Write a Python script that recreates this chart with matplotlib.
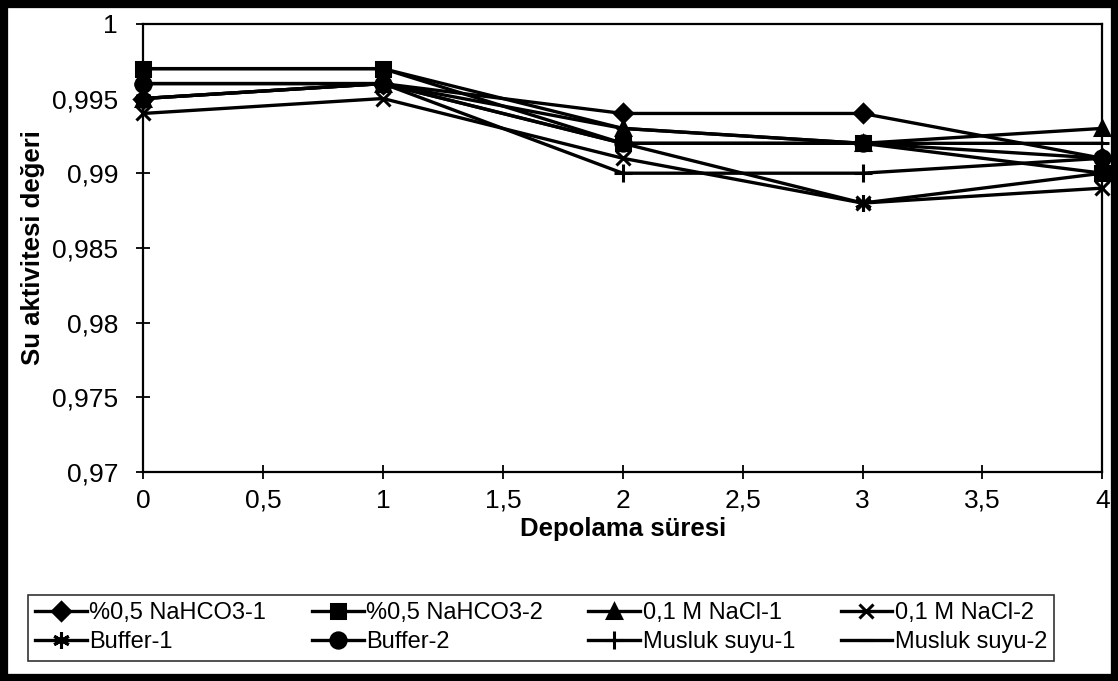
import numpy as np
import matplotlib
matplotlib.use("Agg")
from matplotlib import pyplot as plt
from matplotlib.ticker import FuncFormatter, MultipleLocator
from matplotlib.patches import Rectangle

plt.rcParams['font.family'] = ['Liberation Sans', 'DejaVu Sans']

days = [0, 1, 2, 3, 4]

nahco3_1 = [0.995, 0.996, 0.994, 0.994, 0.991]
nahco3_2 = [0.997, 0.997, 0.992, 0.992, 0.990]
nacl_1 = [0.995, 0.996, 0.993, 0.992, 0.993]
nacl_2 = [0.994, 0.995, 0.991, 0.988, 0.989]
buffer_1 = [0.995, 0.996, 0.992, 0.988, 0.990]
buffer_2 = [0.996, 0.996, 0.992, 0.992, 0.991]
musluk_1 = [0.996, 0.996, 0.990, 0.990, 0.991]
musluk_2 = [0.997, 0.997, 0.993, 0.992, 0.992]

labels = ['%0,5 NaHCO3-1', '%0,5 NaHCO3-2', '0,1 M NaCl-1', '0,1 M NaCl-2',
          'Buffer-1', 'Buffer-2', 'Musluk suyu-1', 'Musluk suyu-2']
series = [nahco3_1, nahco3_2, nacl_1, nacl_2, buffer_1, buffer_2, musluk_1, musluk_2]
markers = ['D', 's', '^', 'x', (6, 2, 0), 'o', '+', '_']
sizes = [9, 10, 10, 10, 12, 11, 13, 10]

fig = plt.figure(figsize=(11.18, 6.81), dpi=100)
ax = fig.add_axes([0.128, 0.307, 0.858, 0.658])

handles = []
for y, lab, m, ms in zip(series, labels, markers, sizes):
    h, = ax.plot(days, y, color='black', lw=2.4, marker=m, markersize=ms,
                 markeredgewidth=2.2, markerfacecolor='black',
                 markeredgecolor='black', label=lab, clip_on=False)
    handles.append(h)

ax.set_xlim(0, 4)
ax.set_ylim(0.97, 1.0)
ax.xaxis.set_major_locator(MultipleLocator(0.5))
ax.yaxis.set_major_locator(MultipleLocator(0.005))

fmt = FuncFormatter(lambda v, p: ('%g' % round(v, 4)).replace('.', ','))
ax.xaxis.set_major_formatter(fmt)
ax.yaxis.set_major_formatter(fmt)
ax.tick_params(direction='inout', length=10, width=1.3, labelsize=19)
ax.tick_params(axis='y', pad=13)
ax.tick_params(axis='x', pad=7)

for s in ax.spines.values():
    s.set_linewidth(1.6)

ax.set_xlabel('Depolama süresi', fontsize=18.5, fontweight='bold', labelpad=3)
ax.set_ylabel('Su aktivitesi değeri', fontsize=18.5, fontweight='bold', labelpad=5)

order = [0, 4, 1, 5, 2, 6, 3, 7]
leg = fig.legend([handles[i] for i in order], [labels[i] for i in order],
                 ncol=4, loc='lower left', bbox_to_anchor=(0.025, 0.03, 0.918, 0.106),
                 mode='expand', fontsize=17, frameon=True, fancybox=False,
                 edgecolor='black', handlelength=2.2, handletextpad=0.1,
                 borderaxespad=0, labelspacing=0.3, borderpad=0.3)
leg.get_frame().set_linewidth(1.2)

fig.patches.append(Rectangle((0, 0), 1, 1, transform=fig.transFigure,
                             fill=False, edgecolor='black', linewidth=11))

fig.savefig('out.png', dpi=100)
